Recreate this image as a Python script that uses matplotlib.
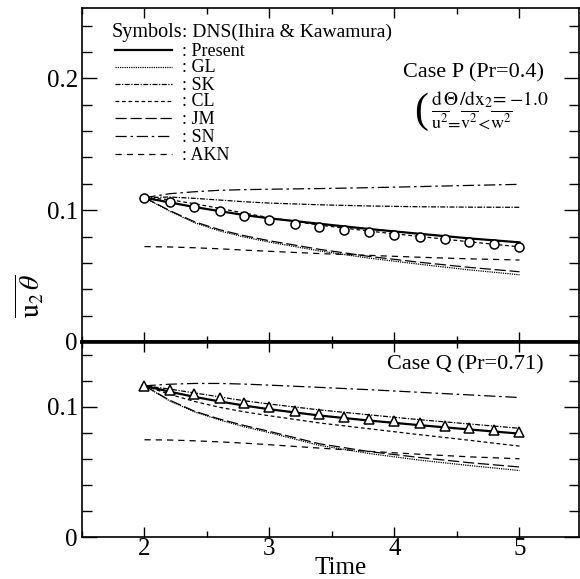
import matplotlib
matplotlib.use("Agg")
import matplotlib.pyplot as plt
from matplotlib.lines import Line2D
from matplotlib.ticker import MultipleLocator

plt.rcParams["font.family"] = ["Liberation Serif", "DejaVu Serif"]
plt.rcParams["mathtext.fontset"] = "stix"

# time axis for the model curves and for the DNS symbols
t_model = [2.0, 2.2, 2.4, 2.6, 2.8, 3.0, 3.4, 3.8, 4.2, 4.6, 5.0]
t_dns = [2.0, 2.2, 2.4, 2.6, 2.8, 3.0, 3.2, 3.4, 3.6, 3.8, 4.0, 4.2, 4.4, 4.6, 4.8, 5.0]

# Case P (Pr=0.4)
dns_p = [0.1091, 0.1064, 0.1027, 0.0991, 0.0956, 0.0923, 0.0895, 0.0870,
         0.0849, 0.0832, 0.0814, 0.0795, 0.0780, 0.0761, 0.0741, 0.0724]
present_p = [0.1095, 0.1059, 0.1024, 0.0993, 0.0963, 0.0938, 0.0897, 0.0857, 0.0821, 0.0786, 0.0756]
gl_p = [0.1095, 0.0993, 0.0905, 0.0843, 0.0796, 0.0758, 0.0691, 0.0636, 0.0590, 0.0547, 0.0510]
sk_p = [0.1095, 0.1100, 0.1090, 0.1077, 0.1064, 0.1054, 0.1041, 0.1032, 0.1026, 0.1023, 0.1022]
cl_p = [0.1095, 0.1080, 0.1049, 0.1014, 0.0978, 0.0943, 0.0887, 0.0841, 0.0801, 0.0760, 0.0722]
jm_p = [0.1095, 0.0998, 0.0912, 0.0852, 0.0806, 0.0768, 0.0703, 0.0649, 0.0605, 0.0566, 0.0533]
sn_p = [0.1095, 0.1125, 0.1140, 0.1151, 0.1156, 0.1159, 0.1164, 0.1171, 0.1179, 0.1188, 0.1196]
akn_p = [0.0724, 0.0721, 0.0715, 0.0707, 0.0697, 0.0688, 0.0671, 0.0657, 0.0643, 0.0631, 0.0622]

# Case Q (Pr=0.71)
dns_q = [0.1160, 0.1127, 0.1100, 0.1063, 0.1028, 0.0995, 0.0969, 0.0944,
         0.0924, 0.0903, 0.0891, 0.0873, 0.0855, 0.0837, 0.0822, 0.0804]
present_q = [0.1160, 0.1115, 0.1075, 0.1040, 0.1008, 0.0980, 0.0932, 0.0893, 0.0858, 0.0825, 0.0793]
gl_q = [0.1160, 0.1045, 0.0960, 0.0898, 0.0845, 0.0800, 0.0703, 0.0640, 0.0590, 0.0548, 0.0510]
sk_q = [0.1160, 0.1135, 0.1105, 0.1075, 0.1045, 0.1020, 0.0975, 0.0937, 0.0900, 0.0867, 0.0834]
cl_q = [0.1160, 0.1095, 0.1040, 0.0995, 0.0960, 0.0930, 0.0875, 0.0830, 0.0785, 0.0742, 0.0697]
jm_q = [0.1160, 0.1050, 0.0965, 0.0905, 0.0855, 0.0810, 0.0715, 0.0655, 0.0610, 0.0570, 0.0537]
sn_q = [0.1160, 0.1172, 0.1178, 0.1178, 0.1173, 0.1165, 0.1148, 0.1130, 0.1110, 0.1090, 0.1070]
akn_q = [0.0746, 0.0744, 0.0738, 0.0730, 0.0720, 0.0708, 0.0682, 0.0657, 0.0635, 0.0615, 0.0600]

names = ["Present", "GL", "SK", "CL", "JM", "SN", "AKN"]
styles = {
    "Present": dict(ls="-", lw=1.6),
    "GL": dict(ls=(0, (1, 0.8)), lw=0.9),
    "SK": dict(ls=(0, (4, 1.2, 1, 1.2)), lw=0.9),
    "CL": dict(ls=(0, (3, 2.2)), lw=0.9),
    "JM": dict(ls=(0, (9, 3)), lw=0.9),
    "SN": dict(ls=(0, (9, 3, 2, 3)), lw=0.9),
    "AKN": dict(ls=(0, (5, 4)), lw=0.9),
}
case_p = dict(zip(names, [present_p, gl_p, sk_p, cl_p, jm_p, sn_p, akn_p]))
case_q = dict(zip(names, [present_q, gl_q, sk_q, cl_q, jm_q, sn_q, akn_q]))

W, H = 580, 579
fig = plt.figure(figsize=(W / 100, H / 100), dpi=100)
ax1 = fig.add_axes([82 / W, 1 - 342 / H, 497 / W, 334 / H])
ax2 = fig.add_axes([82 / W, 1 - 537 / H, 497 / W, 195 / H])

for ax, curves in ((ax1, case_p), (ax2, case_q)):
    for n in names:
        ax.plot(t_model, curves[n], color="black", **styles[n])
ax1.plot(t_dns, dns_p, "o", mfc="white", mec="black", ms=6.5, mew=1.1)
ax2.plot(t_dns, dns_q, "^", mfc="white", mec="black", ms=6.5, mew=1.1)

ax1.set_ylim(0, 0.2534)
ax2.set_ylim(0, 0.1496)
for ax in (ax1, ax2):
    ax.set_xlim(1.5, 5.476)
    ax.xaxis.set_major_locator(MultipleLocator(1))
    ax.xaxis.set_minor_locator(MultipleLocator(0.5))
    ax.yaxis.set_major_locator(MultipleLocator(0.1))
    ax.yaxis.set_minor_locator(MultipleLocator(0.02))
    ax.tick_params(axis="both", which="both", direction="in",
                   top=True, bottom=True, left=True, right=True, labelsize=18)
    ax.tick_params(axis="y", which="major", length=11, width=1, pad=3)
    ax.tick_params(axis="y", which="minor", length=7, width=1)
    ax.tick_params(axis="x", which="major", length=7, width=1, pad=1)
    ax.tick_params(axis="x", which="minor", length=4, width=1)
    for s in ax.spines.values():
        s.set_linewidth(1.2)
    ax.yaxis.set_major_formatter(plt.FuncFormatter(lambda v, p: "0" if abs(v) < 1e-9 else f"{v:.1f}"))

ax1.tick_params(axis="x", labelbottom=False)
ax1.spines["bottom"].set_linewidth(2.6)
ax2.spines["top"].set_linewidth(2.6)
ax2.set_xlabel("Time", fontsize=18)
ax2.xaxis.set_label_coords((341 - 82) / 497, -0.105)

fig.text(30 / W, 1 - 296 / H, r"$\overline{\mathrm{u}_2\,\theta}$", fontsize=20,
         rotation=90, ha="center", va="center")

# legend drawn by hand, like in the original figure
fig.text(182 / W, 1 - 32 / H, "Symbols", fontsize=14.5, ha="right", va="center")
fig.text(182 / W, 1 - 32 / H, ": DNS(Ihira & Kawamura)", fontsize=14, ha="left", va="center")
row_y = [50, 67, 84, 101, 118, 136, 154]
for n, py in zip(names, row_y):
    fig.add_artist(Line2D([115 / W, 172 / W], [1 - py / H, 1 - py / H], color="black",
                          transform=fig.transFigure, **styles[n]))
    fig.text(182 / W, 1 - (py + 1) / H, ": " + n, fontsize=13, ha="left", va="center",
             linespacing=1.0)

fig.text(544 / W, 1 - 73 / H, "Case P (Pr=0.4)", fontsize=16, ha="right", va="center")
fig.text(421 / W, 1 - 112 / H, "(", fontsize=30, ha="center", va="center")
fig.text(431 / W, 1 - 100 / H, r"$\mathrm{d}\,\Theta\,/\mathrm{dx}_2\!={-}1.0$", fontsize=14,
         ha="left", va="center")
fig.text(431 / W, 1 - 122 / H,
         r"$\overline{\mathrm{u}^2}\!=\!\overline{\mathrm{v}^2}\!<\!\overline{\mathrm{w}^2}$",
         fontsize=13, ha="left", va="center")
fig.text(544 / W, 1 - 365 / H, "Case Q (Pr=0.71)", fontsize=16, ha="right", va="center")

fig.savefig("out.png", dpi=100)
